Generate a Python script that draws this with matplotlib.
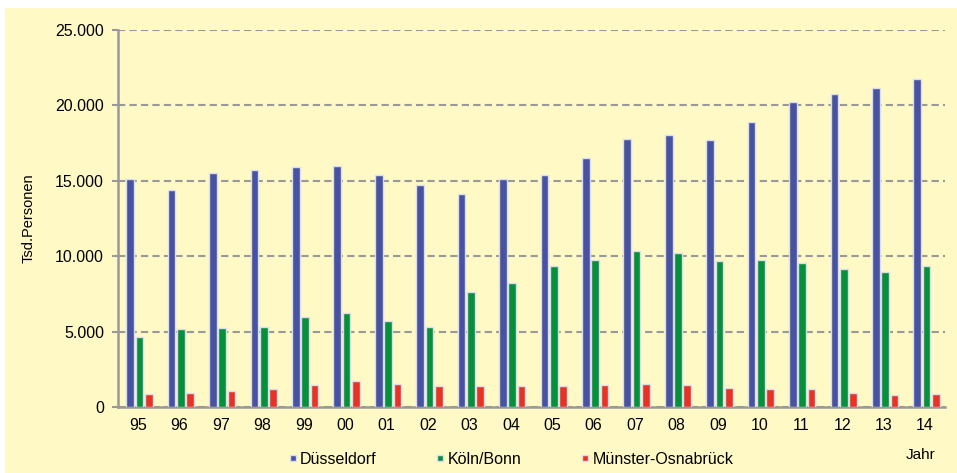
import numpy as np
import matplotlib
matplotlib.use("Agg")
import matplotlib.pyplot as plt
from matplotlib.lines import Line2D
from matplotlib.patches import Rectangle
from matplotlib.ticker import FuncFormatter

# Data (Tsd. Personen)
jahre = ['95', '96', '97', '98', '99', '00', '01', '02', '03', '04',
         '05', '06', '07', '08', '09', '10', '11', '12', '13', '14']
duesseldorf = [15100, 14400, 15500, 15700, 15900, 16000, 15400, 14700, 14150, 15100,
               15400, 16500, 17750, 18050, 17700, 18900, 20250, 20750, 21150, 21750]
koeln_bonn = [4650, 5150, 5230, 5280, 5950, 6220, 5680, 5280, 7600, 8200,
              9320, 9750, 10330, 10240, 9650, 9740, 9550, 9160, 8980, 9360]
muenster = [840, 950, 1040, 1190, 1480, 1700, 1510, 1420, 1380, 1380,
            1410, 1450, 1520, 1480, 1270, 1220, 1220, 920, 790, 830]

plt.rcParams['font.family'] = ['Liberation Sans', 'DejaVu Sans']

bg = '#FFF9C6'
col_blue = '#4753A0'
col_green = '#078F3B'
col_red = '#E63424'
edge = '#DCDDEA'
grey = '#999999'

fig = plt.figure(figsize=(9.57, 4.73), dpi=100)
fig.patch.set_facecolor('white')
fig.patches.append(Rectangle((5 / 957, 0), 1, 1 - 8 / 473, transform=fig.transFigure,
                             facecolor=bg, edgecolor='none', zorder=-10))

ax = fig.add_axes([118 / 957, 1 - 407 / 473, (945 - 118) / 957, (407 - 30) / 473])
ax.set_facecolor(bg)

x = np.arange(len(jahre))
w = 0.185
ax.bar(x - 0.19, duesseldorf, w, color=col_blue, edgecolor=edge, linewidth=1.0, zorder=3)
ax.bar(x + 0.035, koeln_bonn, w, color=col_green, edgecolor=edge, linewidth=1.0, zorder=3)
ax.bar(x + 0.26, muenster, w, color=col_red, edgecolor=edge, linewidth=1.0, zorder=3)

ax.set_xlim(-0.483, 19.48)
ax.set_ylim(0, 25000)
ax.set_yticks(np.arange(0, 25001, 5000))
ax.yaxis.set_major_formatter(FuncFormatter(lambda v, p: f"{int(v):,}".replace(',', '.')))
ax.set_xticks(x)
ax.set_xticklabels(jahre)

ax.grid(axis='y', color=grey, linestyle=(0, (3.5, 2)), linewidth=1.5, zorder=1)
for s in ['top', 'right']:
    ax.spines[s].set_visible(False)
for s in ['left', 'bottom']:
    ax.spines[s].set_color(grey)
    ax.spines[s].set_linewidth(1.8)
ax.tick_params(axis='y', length=4, width=1.5, color=grey, labelsize=11.5, pad=6)
ax.tick_params(axis='x', length=0, labelsize=11.5, pad=8)
ax.set_ylabel('Tsd.Personen', fontsize=10.5, labelpad=14)

handles = [Line2D([], [], marker='s', linestyle='', markersize=5, color=c,
                  markeredgecolor=edge, markeredgewidth=1)
           for c in (col_blue, col_green, col_red)]
fig.legend(handles, ['Düsseldorf', 'Köln/Bonn', 'Münster-Osnabrück'],
           loc='center left', bbox_to_anchor=(288 / 957, 1 - 459 / 473),
           ncol=3, frameon=False, fontsize=11.5, handlelength=0.6,
           handletextpad=0.15, columnspacing=3.7, borderpad=0, borderaxespad=0)
fig.text(921 / 957, 1 - 455 / 473, 'Jahr', ha='center', va='center', fontsize=11)

fig.savefig('out.png', dpi=100, facecolor=fig.get_facecolor())
